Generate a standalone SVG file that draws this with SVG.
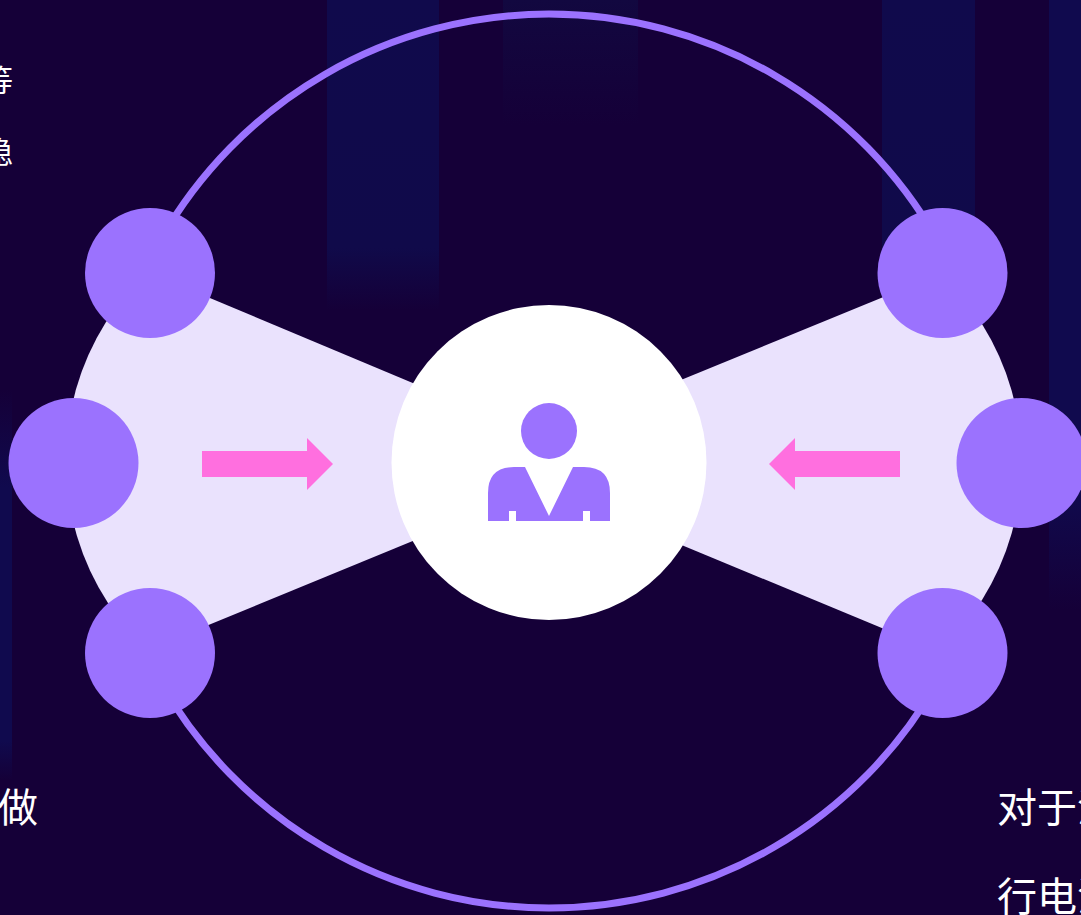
<svg xmlns="http://www.w3.org/2000/svg" width="1081" height="915" viewBox="0 0 1081 915">
<defs>
<style>
.node{fill:#9b72fe}
.txt{fill:#fff;font-family:"Liberation Sans","Noto Sans CJK SC",sans-serif}
.arrow{fill:#ff6fdf}
.fan{fill:#eae2fd}
.ring{fill:none;stroke:#9b72fe;stroke-width:7}
</style>
<linearGradient id="s1" x1="0" y1="0" x2="0" y2="1"><stop offset="0" stop-color="#100a4c"/><stop offset=".8" stop-color="#100a4a"/><stop offset="1" stop-color="#150038"/></linearGradient>
<linearGradient id="s2" x1="0" y1="0" x2="0" y2="1"><stop offset="0" stop-color="#120840"/><stop offset="1" stop-color="#150038"/></linearGradient>
<linearGradient id="s3" x1="0" y1="0" x2="0" y2="1"><stop offset="0" stop-color="#150038"/><stop offset=".25" stop-color="#100a4e"/><stop offset=".9" stop-color="#100a4e"/><stop offset="1" stop-color="#150038"/></linearGradient>
<linearGradient id="s4" x1="0" y1="0" x2="0" y2="1"><stop offset="0" stop-color="#100a4e"/><stop offset=".8" stop-color="#100a4e"/><stop offset="1" stop-color="#150038"/></linearGradient>
</defs>
<rect id="background" width="1081" height="915" fill="#150038"/>
<g id="stripes">
<rect x="327" y="0" width="112" height="310" fill="url(#s1)"/>
<rect x="503" y="0" width="135" height="125" fill="url(#s2)"/>
<rect x="882" y="0" width="93" height="300" fill="url(#s1)"/>
<rect x="1049" y="0" width="32" height="610" fill="url(#s4)"/>
<rect x="0" y="390" width="12" height="390" fill="url(#s3)"/>
</g>
<g id="ring">
<path class="ring" d="M160.500 240A447 447 0 0 1 937.500 240"/>
<path class="ring" d="M160.500 682A447 447 0 0 0 937.500 682"/>
</g>
<g id="connectors">
<path class="fan" d="M150 273L549 440V485L150 649L108 603A261 261 0 0 1 106 322Z"/>
<path class="fan" d="M942 273L549 434V490L942 653L982 600A260 260 0 0 0 982 324Z"/>
<path class="arrow" d="M202 451H307V438L333 464L307 490V477H202Z"/>
<path class="arrow" d="M900 451H795V438L769 464L795 490V477H900Z"/>
</g>
<g id="node-left-top"><circle class="node" cx="150" cy="273" r="65"/></g>
<g id="node-left-mid"><circle class="node" cx="73.500" cy="463" r="65"/></g>
<g id="node-left-bottom"><circle class="node" cx="150" cy="653" r="65"/></g>
<g id="node-right-top"><circle class="node" cx="942.500" cy="273" r="65"/></g>
<g id="node-right-mid"><circle class="node" cx="1021.500" cy="463" r="65"/></g>
<g id="node-right-bottom"><circle class="node" cx="942.500" cy="653" r="65"/></g>
<g id="center">
<circle cx="549" cy="462.500" r="157.500" fill="#fff"/>
<circle class="node" cx="549" cy="431" r="28"/>
<path class="node" d="M488 521V493Q488 467 514 467H525L549 516L573 467H584Q610 467 610 493V521H590V511H583V521H516V511H509V521Z"/>
</g>
<g id="labels">
<text class="txt" x="-17" y="91" font-size="30">等</text>
<text class="txt" x="-17" y="163" font-size="30">稳</text>
<text class="txt" x="-2" y="822" font-size="40">做</text>
<text class="txt" x="997" y="822" font-size="40">对于汽</text>
<text class="txt" x="997" y="911" font-size="40">行电池</text>
</g>
</svg>
